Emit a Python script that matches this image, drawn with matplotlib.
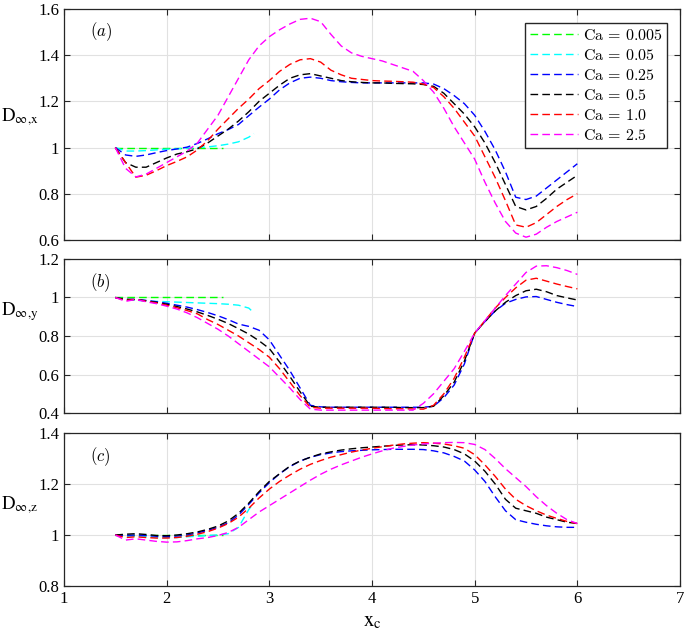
import numpy as np
import matplotlib.pyplot as plt
from matplotlib.font_manager import FontProperties
from matplotlib.ticker import FormatStrFormatter

plt.rcParams['font.family'] = ['Liberation Serif', 'DejaVu Serif']
plt.rcParams['mathtext.fontset'] = 'stix'

# --- Données ---
x = [1.5, 1.6, 1.7, 1.8, 1.9, 2.0, 2.1, 2.2, 2.3, 2.4, 2.5, 2.6, 2.7, 2.8, 2.9,
     3.0, 3.1, 3.2, 3.3, 3.4, 3.5, 3.6, 3.7, 3.8, 3.9, 4.0, 4.1, 4.2, 4.3, 4.4,
     4.5, 4.6, 4.7, 4.8, 4.9, 5.0, 5.1, 5.2, 5.3, 5.4, 5.5, 5.6, 5.7, 5.8, 5.9, 6.0]
x_green = [1.5, 1.6, 1.7, 1.8, 1.9, 2.0, 2.1, 2.2, 2.3, 2.4, 2.5, 2.55]
x_cyan = [1.5, 1.6, 1.7, 1.8, 1.9, 2.0, 2.1, 2.2, 2.3, 2.4, 2.5, 2.6, 2.7, 2.8, 2.85]

ca_values = ['0.005', '0.05', '0.25', '0.5', '1.0', '2.5']
colors = ['#00ff00', '#00ffff', '#0000ff', '#000000', '#ff0000', '#ff00ff']

# (a) D_inf,x
ax_green = [1.0] * 12
ax_cyan = [1.0, 0.985, 0.985, 0.987, 0.99, 0.993, 0.995, 0.997, 1.0, 1.003, 1.008,
           1.015, 1.025, 1.045, 1.06]
ax_blue = [1.0, 0.968, 0.962, 0.968, 0.978, 0.987, 0.994, 1.002, 1.018, 1.038, 1.06,
           1.078, 1.10, 1.138, 1.175, 1.21, 1.25, 1.28, 1.30, 1.305, 1.30, 1.29, 1.285,
           1.282, 1.28, 1.28, 1.28, 1.28, 1.28, 1.28, 1.28, 1.275, 1.255, 1.225, 1.19,
           1.14, 1.07, 0.99, 0.895, 0.785, 0.775, 0.79, 0.825, 0.86, 0.895, 0.93]
ax_black = [1.0, 0.935, 0.915, 0.915, 0.935, 0.955, 0.972, 0.982, 0.995, 1.02, 1.05,
            1.08, 1.115, 1.155, 1.20, 1.235, 1.27, 1.30, 1.315, 1.32, 1.31, 1.30, 1.29,
            1.285, 1.282, 1.28, 1.28, 1.278, 1.277, 1.276, 1.273, 1.265, 1.235, 1.19,
            1.145, 1.09, 1.02, 0.935, 0.84, 0.745, 0.73, 0.745, 0.78, 0.82, 0.85, 0.88]
ax_red = [1.0, 0.935, 0.872, 0.88, 0.90, 0.922, 0.94, 0.96, 0.99, 1.03, 1.08, 1.125,
          1.17, 1.21, 1.255, 1.29, 1.33, 1.36, 1.38, 1.385, 1.37, 1.335, 1.315, 1.30,
          1.295, 1.29, 1.288, 1.287, 1.285, 1.283, 1.275, 1.26, 1.22, 1.17, 1.11, 1.05,
          0.96, 0.87, 0.77, 0.665, 0.655, 0.675, 0.71, 0.745, 0.775, 0.80]
ax_magenta = [1.0, 0.91, 0.873, 0.885, 0.91, 0.935, 0.96, 0.985, 1.02, 1.08, 1.14,
              1.22, 1.30, 1.38, 1.44, 1.48, 1.51, 1.535, 1.555, 1.56, 1.545, 1.49, 1.44,
              1.41, 1.395, 1.385, 1.375, 1.36, 1.345, 1.33, 1.29, 1.24, 1.17, 1.09, 1.02,
              0.95, 0.85, 0.76, 0.68, 0.63, 0.612, 0.625, 0.655, 0.68, 0.70, 0.72]

# (b) D_inf,y
by_green = [1.0] * 12
by_cyan = [1.0, 0.99, 0.985, 0.982, 0.98, 0.978, 0.976, 0.974, 0.972, 0.97, 0.968,
           0.965, 0.96, 0.945, 0.92]
by_blue = [1.0, 0.99, 0.99, 0.985, 0.978, 0.97, 0.96, 0.95, 0.937, 0.922, 0.905, 0.885,
           0.862, 0.85, 0.83, 0.78, 0.70, 0.62, 0.53, 0.44, 0.432, 0.43, 0.43, 0.43, 0.43,
           0.43, 0.43, 0.43, 0.43, 0.43, 0.43, 0.435, 0.48, 0.545, 0.655, 0.815, 0.875,
           0.93, 0.97, 0.99, 1.003, 1.005, 0.99, 0.975, 0.963, 0.953]
by_black = [1.0, 0.99, 0.99, 0.983, 0.975, 0.965, 0.953, 0.94, 0.925, 0.907, 0.887,
            0.865, 0.838, 0.81, 0.775, 0.735, 0.665, 0.59, 0.51, 0.435, 0.43, 0.43, 0.43,
            0.43, 0.43, 0.43, 0.43, 0.43, 0.428, 0.428, 0.428, 0.435, 0.49, 0.56, 0.67,
            0.815, 0.875, 0.93, 0.975, 1.01, 1.035, 1.043, 1.03, 1.01, 0.998, 0.987]
by_red = [1.0, 0.985, 0.99, 0.98, 0.972, 0.96, 0.947, 0.932, 0.915, 0.885, 0.86, 0.83,
          0.80, 0.765, 0.73, 0.69, 0.63, 0.56, 0.49, 0.43, 0.425, 0.425, 0.425, 0.425,
          0.425, 0.425, 0.423, 0.422, 0.422, 0.421, 0.42, 0.44, 0.50, 0.58, 0.69, 0.815,
          0.88, 0.945, 1.0, 1.05, 1.09, 1.10, 1.085, 1.07, 1.057, 1.045]
by_magenta = [1.0, 0.98, 0.99, 0.978, 0.968, 0.955, 0.94, 0.92, 0.895, 0.865, 0.835,
              0.80, 0.76, 0.72, 0.68, 0.64, 0.585, 0.53, 0.47, 0.42, 0.415, 0.415, 0.415,
              0.415, 0.415, 0.415, 0.415, 0.415, 0.415, 0.415, 0.45, 0.50, 0.565, 0.63,
              0.72, 0.815, 0.88, 0.945, 1.01, 1.07, 1.13, 1.163, 1.165, 1.155, 1.14, 1.12]

# (c) D_inf,z
cz_green = [1.0] * 12
cz_cyan = [1.0, 0.995, 0.995, 0.993, 0.99, 0.99, 0.99, 0.993, 0.995, 0.998, 1.0,
           1.005, 1.03, 1.10, 1.125]
cz_blue = [1.0, 0.998, 1.0, 0.998, 0.995, 0.993, 0.996, 1.0, 1.008, 1.018, 1.03, 1.048,
           1.078, 1.12, 1.165, 1.205, 1.24, 1.268, 1.29, 1.305, 1.315, 1.322, 1.327, 1.33,
           1.332, 1.334, 1.335, 1.336, 1.336, 1.336, 1.335, 1.33, 1.322, 1.308, 1.29,
           1.255, 1.21, 1.15, 1.095, 1.06, 1.05, 1.042, 1.036, 1.032, 1.03, 1.03]
cz_black = [1.0, 1.003, 1.005, 1.002, 0.998, 0.997, 1.0, 1.005, 1.012, 1.022, 1.035,
            1.055, 1.085, 1.125, 1.17, 1.21, 1.24, 1.27, 1.29, 1.305, 1.318, 1.326, 1.333,
            1.338, 1.342, 1.345, 1.348, 1.351, 1.353, 1.354, 1.353, 1.35, 1.345, 1.335,
            1.318, 1.29, 1.25, 1.20, 1.14, 1.105, 1.095, 1.085, 1.07, 1.06, 1.05, 1.045]
cz_red = [1.0, 0.99, 0.993, 0.99, 0.988, 0.988, 0.99, 0.995, 1.003, 1.013, 1.027, 1.045,
          1.07, 1.105, 1.145, 1.18, 1.21, 1.235, 1.258, 1.277, 1.292, 1.305, 1.315, 1.325,
          1.333, 1.34, 1.346, 1.352, 1.357, 1.36, 1.362, 1.36, 1.357, 1.35, 1.34, 1.315,
          1.275, 1.23, 1.18, 1.14, 1.115, 1.095, 1.078, 1.065, 1.053, 1.045]
cz_magenta = [1.0, 0.98, 0.985, 0.98, 0.975, 0.972, 0.973, 0.978, 0.985, 0.99, 0.998,
              1.01, 1.03, 1.06, 1.09, 1.115, 1.14, 1.165, 1.19, 1.215, 1.238, 1.258, 1.275,
              1.29, 1.305, 1.318, 1.33, 1.34, 1.347, 1.353, 1.357, 1.36, 1.362, 1.363,
              1.362, 1.355, 1.335, 1.30, 1.26, 1.225, 1.19, 1.15, 1.115, 1.085, 1.06, 1.045]

panels = [
    ([ax_green, ax_cyan, ax_blue, ax_black, ax_red, ax_magenta], (0.6, 1.6), np.arange(0.6, 1.61, 0.2), 'x', 'a'),
    ([by_green, by_cyan, by_blue, by_black, by_red, by_magenta], (0.4, 1.2), np.arange(0.4, 1.21, 0.2), 'y', 'b'),
    ([cz_green, cz_cyan, cz_blue, cz_black, cz_red, cz_magenta], (0.8, 1.4), np.arange(0.8, 1.41, 0.2), 'z', 'c'),
]

# positions des axes (fractions de la figure)
rects = [[0.0934, 0.6203, 0.8993, 0.3655],
         [0.0934, 0.3465, 0.8993, 0.2437],
         [0.0934, 0.0728, 0.8993, 0.2421]]
label_y = [0.53, 0.656, 0.53]
panel_y = [0.90, 0.844, 0.843]

cm_font = FontProperties(size=11.5, math_fontfamily='cm')

fig = plt.figure(figsize=(6.85, 6.32), dpi=100)

for i, (series, ylim, yticks, comp, tag) in enumerate(panels):
    ax = fig.add_axes(rects[i])
    for j, y in enumerate(series):
        if j == 0:
            xs = x_green
        elif j == 1:
            xs = x_cyan
        else:
            xs = x
        ax.plot(xs, y, color=colors[j], lw=1.0, dashes=(5.5, 3),
                label=r'$\mathrm{Ca}\,=\,' + ca_values[j] + '$')

    ax.set_xlim(1, 7)
    ax.set_ylim(*ylim)
    ax.set_xticks(range(1, 8))
    ax.set_yticks(yticks)
    ax.yaxis.set_major_formatter(FormatStrFormatter('%g'))
    ax.grid(True, color='#e1e1e1', lw=0.8)
    ax.set_axisbelow(True)
    ax.tick_params(direction='in', top=True, right=True, length=4, width=0.8,
                   labelsize=12, color='#262626')
    for s in ax.spines.values():
        s.set_color('#262626')
        s.set_linewidth(0.9)
    if i < 2:
        ax.tick_params(labelbottom=False)

    # label horizontal, comme sur la figure d'origine
    ax.text(-0.072, label_y[i], r'$\mathrm{D}_{\infty{,}\mathrm{' + comp + '}}$',
            transform=ax.transAxes, fontsize=13.5, ha='center', va='center')
    ax.text(0.042, panel_y[i], r'$(' + tag + ')$', transform=ax.transAxes,
            fontproperties=FontProperties(size=12, math_fontfamily='cm'), va='center')

    if i == 0:
        ax.legend(loc='upper right', bbox_to_anchor=(0.979, 0.94), borderaxespad=0,
                  prop=cm_font, fancybox=False, edgecolor='#262626', framealpha=1,
                  handlelength=3.0, labelspacing=0.25, handletextpad=0.3,
                  borderpad=0.3)
    if i == 2:
        ax.set_xlabel(r'$\mathrm{x}_\mathrm{c}$', fontsize=15, labelpad=4)

fig.savefig('out.png', dpi=100)
